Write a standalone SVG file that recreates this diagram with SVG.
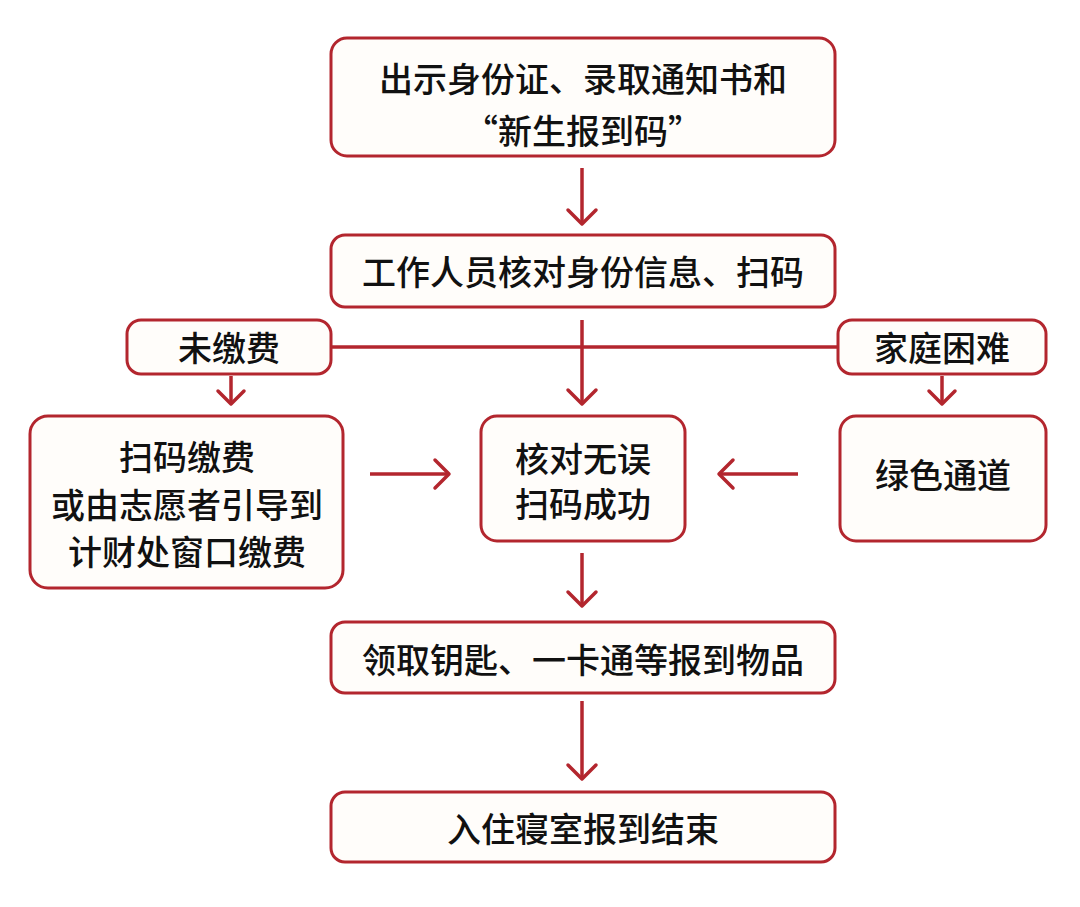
<svg xmlns="http://www.w3.org/2000/svg" width="1080" height="907" viewBox="0 0 1080 907">
<style>
.n rect{fill:#fffdfa;stroke:#b3262e;stroke-width:3}
.n text{font-family:"Noto Sans CJK SC",sans-serif;font-size:34px;font-weight:500;fill:#111;text-anchor:middle;dominant-baseline:central}
.c line{stroke:#b3262e;stroke-width:3.5;fill:none}
.c path{stroke:#b3262e;stroke-width:3.5;fill:none;stroke-linecap:round;stroke-linejoin:round}
</style>
<rect width="1080" height="907" fill="#fff"/>
<g class="c">
<line x1="582" y1="168" x2="582" y2="224"/><path d="M568,210 L582,224 L596,210"/>
<line x1="331" y1="347" x2="838" y2="347"/>
<line x1="582" y1="320" x2="582" y2="404"/><path d="M568,390 L582,404 L596,390"/>
<line x1="231" y1="376" x2="231" y2="404"/><path d="M218,391 L231,404 L244,391"/>
<line x1="942" y1="376" x2="942" y2="404"/><path d="M929,391 L942,404 L955,391"/>
<line x1="370" y1="474" x2="449" y2="474"/><path d="M435,460 L449,474 L435,488"/>
<line x1="798" y1="474" x2="719" y2="474"/><path d="M733,460 L719,474 L733,488"/>
<line x1="582" y1="553" x2="582" y2="606"/><path d="M568,592 L582,606 L596,592"/>
<line x1="582" y1="701" x2="582" y2="779"/><path d="M568,765 L582,779 L596,765"/>
</g>
<g class="n" id="n1"><rect x="331" y="38" width="504" height="118" rx="16"/><text x="583" y="77">出示身份证、录取通知书和</text><text x="583" y="129">“新生报到码”</text></g>
<g class="n" id="n2"><rect x="331" y="235" width="504" height="72" rx="14"/><text x="583" y="270">工作人员核对身份信息、扫码</text></g>
<g class="n" id="n3"><rect x="127" y="320" width="204" height="54" rx="14"/><text x="229" y="346">未缴费</text></g>
<g class="n" id="n4"><rect x="838" y="320" width="208" height="54" rx="14"/><text x="942" y="346">家庭困难</text></g>
<g class="n" id="n5"><rect x="30" y="416" width="313" height="172" rx="18"/><text x="187" y="455">扫码缴费</text><text x="187" y="503">或由志愿者引导到</text><text x="187" y="550">计财处窗口缴费</text></g>
<g class="n" id="n6"><rect x="481" y="416" width="204" height="125" rx="16"/><text x="583" y="457">核对无误</text><text x="583" y="502">扫码成功</text></g>
<g class="n" id="n7"><rect x="840" y="416" width="206" height="125" rx="16"/><text x="943" y="473">绿色通道</text></g>
<g class="n" id="n8"><rect x="331" y="622" width="504" height="71" rx="14"/><text x="583" y="658">领取钥匙、一卡通等报到物品</text></g>
<g class="n" id="n9"><rect x="331" y="792" width="504" height="70" rx="14"/><text x="583" y="827">入住寝室报到结束</text></g>
</svg>
